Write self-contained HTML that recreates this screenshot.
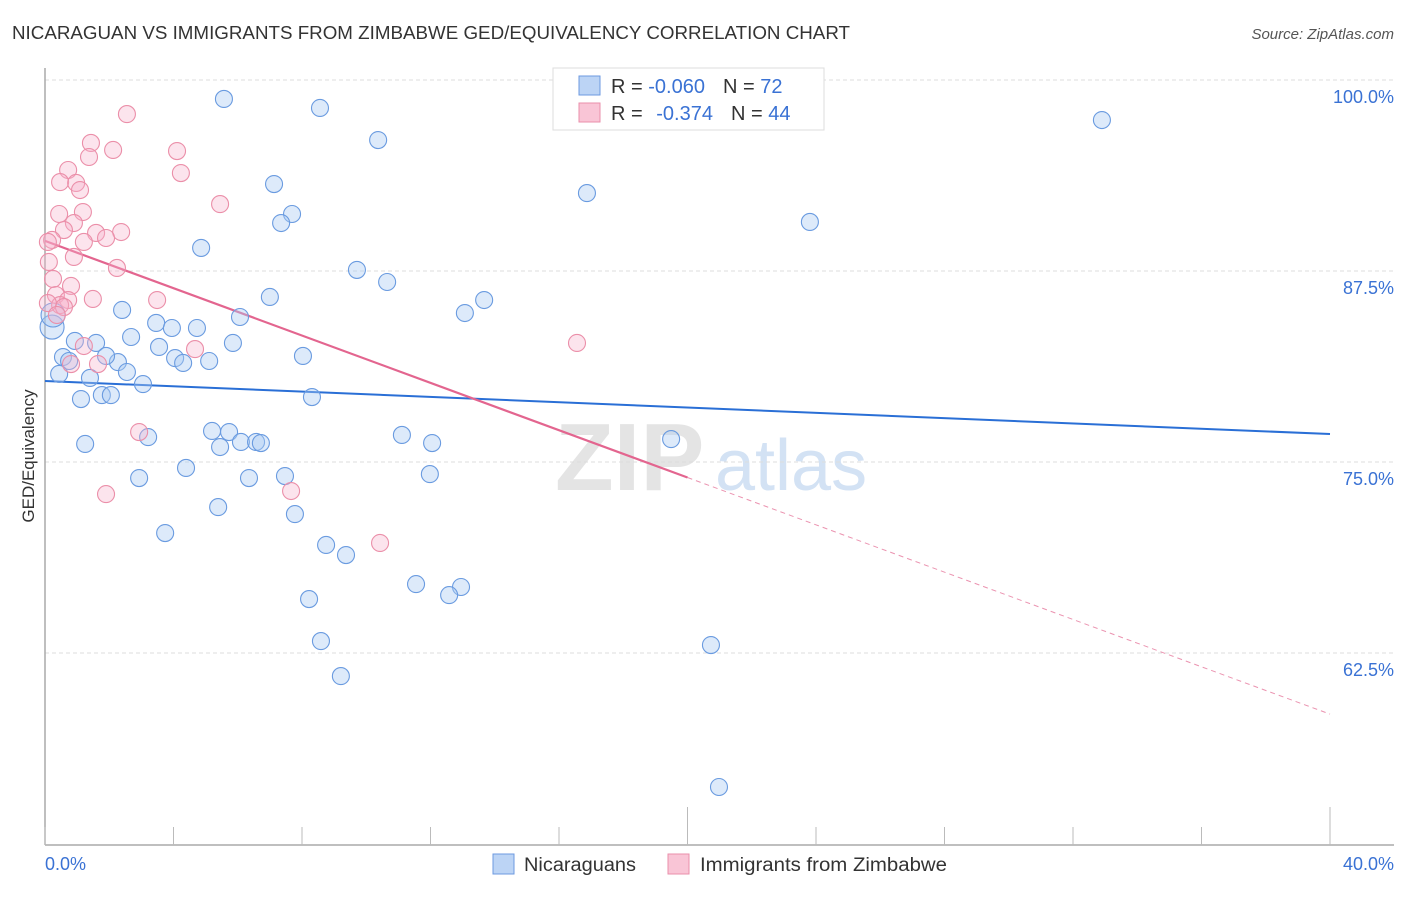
<!DOCTYPE html>
<html><head><meta charset="utf-8"><style>
body{margin:0;background:#fff;font-family:"Liberation Sans",sans-serif;}
svg text{font-family:"Liberation Sans",sans-serif;}
</style></head><body>
<svg id="chart" width="1406" height="892" xmlns="http://www.w3.org/2000/svg">
<text x="12" y="39" font-size="18" fill="#333" textLength="838" lengthAdjust="spacingAndGlyphs">NICARAGUAN VS IMMIGRANTS FROM ZIMBABWE GED/EQUIVALENCY CORRELATION CHART</text>
<text x="1394" y="39" font-size="15" fill="#555" text-anchor="end" font-style="italic">Source: ZipAtlas.com</text>
<g>
<text x="555" y="490" font-size="96" font-family="Liberation Serif" fill="#e4e4e4" font-weight="bold">ZIP</text>
<text x="715" y="490" font-size="72" fill="#d3e2f4">atlas</text>
</g>
<g id="grid"></g>
<line x1="45" y1="68" x2="45" y2="845" stroke="#aaa" stroke-width="1.5"/>
<line x1="45" y1="845" x2="1394" y2="845" stroke="#aaa" stroke-width="1.5"/>
<text transform="translate(34,456) rotate(-90)" font-size="17" fill="#333" text-anchor="middle">GED/Equivalency</text>
<text x="45" y="870" font-size="18" fill="#3a72d4">0.0%</text>
<text x="1394" y="870" font-size="18" fill="#3a72d4" text-anchor="end">40.0%</text>
<g id="ticks"></g>
<g id="lines"></g>
<g id="blue"></g>
<g id="pink"></g>
<g>
<rect x="553" y="68" width="271" height="62" fill="#fff" stroke="#ddd"/>
<rect x="579" y="76" width="21" height="19" fill="#bcd4f5" stroke="#6c9ae0"/>
<rect x="579" y="103" width="21" height="19" fill="#f9c5d6" stroke="#ea8fab"/>
<text x="611" y="93" font-size="20" fill="#333">R = <tspan fill="#3a72d4">-0.060</tspan><tspan dx="18">N = </tspan><tspan fill="#3a72d4">72</tspan></text>
<text x="611" y="120" font-size="20" fill="#333">R = <tspan fill="#3a72d4" dx="8">-0.374</tspan><tspan dx="18">N = </tspan><tspan fill="#3a72d4">44</tspan></text>
</g>
<g>
<rect x="493" y="854" width="21" height="20" fill="#bcd4f5" stroke="#6c9ae0"/>
<text x="524" y="871" font-size="19" fill="#333" textLength="112" lengthAdjust="spacingAndGlyphs">Nicaraguans</text>
</g>
<g>
<rect x="668" y="854" width="21" height="20" fill="#f9c5d6" stroke="#ea8fab"/>
<text x="700" y="871" font-size="19" fill="#333" textLength="247" lengthAdjust="spacingAndGlyphs">Immigrants from Zimbabwe</text>
</g>
</svg>
<script>
const yTicks=[100,87.5,75,62.5];
const yTickLabels=["100.0%","87.5%","75.0%","62.5%"];
const xTicks=[0,4,8,12,16,20,24,28,32,36,40];
const blueX=[5.57,8.56,10.37,32.90,7.13,16.87,7.69,7.35,23.81,4.86,9.71,10.65,7.00,13.67,13.07,2.40,6.07,3.46,3.95,4.73,2.68,5.85,0.93,1.59,3.55,0.56,0.75,4.05,4.30,5.11,8.03,2.27,1.90,0.44,2.55,1.40,3.05,0.22,0.25,1.12,1.77,2.05,8.31,1.25,3.21,5.45,5.20,5.73,6.10,6.57,6.72,11.11,12.05,19.49,2.93,4.39,6.35,7.47,11.98,5.39,7.78,3.74,8.75,9.37,11.55,12.95,12.58,8.22,8.59,20.73,9.21,20.98];
const blueY=[98.76,98.17,96.07,97.38,93.19,92.60,91.23,90.64,90.71,89.01,87.57,86.78,85.80,85.60,84.75,84.95,84.49,84.10,83.77,83.77,83.18,82.79,82.92,82.79,82.53,81.87,81.61,81.80,81.48,81.61,81.94,81.54,81.94,80.76,80.89,80.50,80.10,83.83,84.62,79.12,79.38,79.38,79.25,76.18,76.63,75.98,77.03,76.96,76.31,76.31,76.24,76.77,76.24,76.50,73.95,74.61,73.95,74.08,74.21,72.05,71.59,70.35,69.57,68.91,67.01,66.82,66.29,66.03,63.28,63.02,60.99,53.73];
const pinkX=[2.55,1.43,2.12,4.11,1.37,0.72,4.23,0.47,0.97,1.09,5.45,1.18,0.44,0.90,0.59,2.37,1.59,1.90,0.22,1.21,0.09,0.12,0.90,2.24,0.25,0.81,0.34,1.49,3.49,0.72,0.47,0.59,0.09,0.37,4.67,1.21,0.81,1.65,2.93,1.90,7.66,10.43,16.56];
const pinkY=[97.77,95.88,95.42,95.35,94.96,94.11,93.91,93.32,93.26,92.80,91.88,91.36,91.23,90.64,90.18,90.05,89.99,89.66,89.53,89.40,89.40,88.09,88.42,87.70,86.98,86.52,85.93,85.67,85.60,85.60,85.27,85.14,85.40,84.62,82.39,82.59,81.41,81.41,76.96,72.90,73.10,69.70,82.79];
const blueTrend=[80.30,76.83];
const pinkTrend=[89.47,58.50];
const pinkSolidEnd=20;
const NS="http://www.w3.org/2000/svg";
function xs(v){return 45+v*(1285/40);}
function ys(v){return 80+(100-v)*(191/12.5);}
function mk(tag,attrs,parent){const e=document.createElementNS(NS,tag);for(const k in attrs)e.setAttribute(k,attrs[k]);document.getElementById(parent).appendChild(e);return e;}
yTicks.forEach((t,i)=>{
 const l=mk('line',{x1:45,x2:1394,y1:ys(t),y2:ys(t),stroke:'#ddd','stroke-dasharray':'4,3'},'grid');
 
 
 const tx=mk('text',{x:1394,y:ys(t)+23,'font-size':18,fill:'#3a72d4','text-anchor':'end'},'grid');
 tx.textContent=yTickLabels[i];
 
 
});
xTicks.forEach(t=>{
 const long=(t===20||t===40);
 const l=mk('line',{x1:xs(t),x2:xs(t),y1:long?807:827,y2:845,stroke:'#bbb'},'ticks');
 
 
});
function trend(c,a,b,x0,x1,dash,w,name,op){
 const l=mk('line',{x1:xs(x0),x2:xs(x1),y1:ys(a+(b-a)*x0/40),y2:ys(a+(b-a)*x1/40),stroke:c,'stroke-width':w,'stroke-opacity':op},'lines');
 if(dash)l.setAttribute('stroke-dasharray',dash);
 
 
}
trend('#2a6fd6',blueTrend[0],blueTrend[1],0,40,null,2,'nicaraguans-trend-line',1);
trend('#e3658f',pinkTrend[0],pinkTrend[1],0,pinkSolidEnd,null,2.2,'zimbabwe-trend-line',1);
trend('#e3658f',pinkTrend[0],pinkTrend[1],pinkSolidEnd,40,'5,4',1,'zimbabwe-trend-extension',0.7);
blueX.forEach((x,i)=>{
 const big=(x<0.3);
 const c=mk('circle',{cx:xs(x),cy:ys(blueY[i]),r:big?12:8.5,fill:'rgba(170,202,242,0.4)',stroke:'#6a9be0','stroke-width':1.1},'blue');
 
 
});
pinkX.forEach((x,i)=>{
 const c=mk('circle',{cx:xs(x),cy:ys(pinkY[i]),r:8.5,fill:'rgba(245,178,202,0.35)',stroke:'#eb8fa9','stroke-width':1.1},'pink');
 
 
});
</script>
</body></html>
